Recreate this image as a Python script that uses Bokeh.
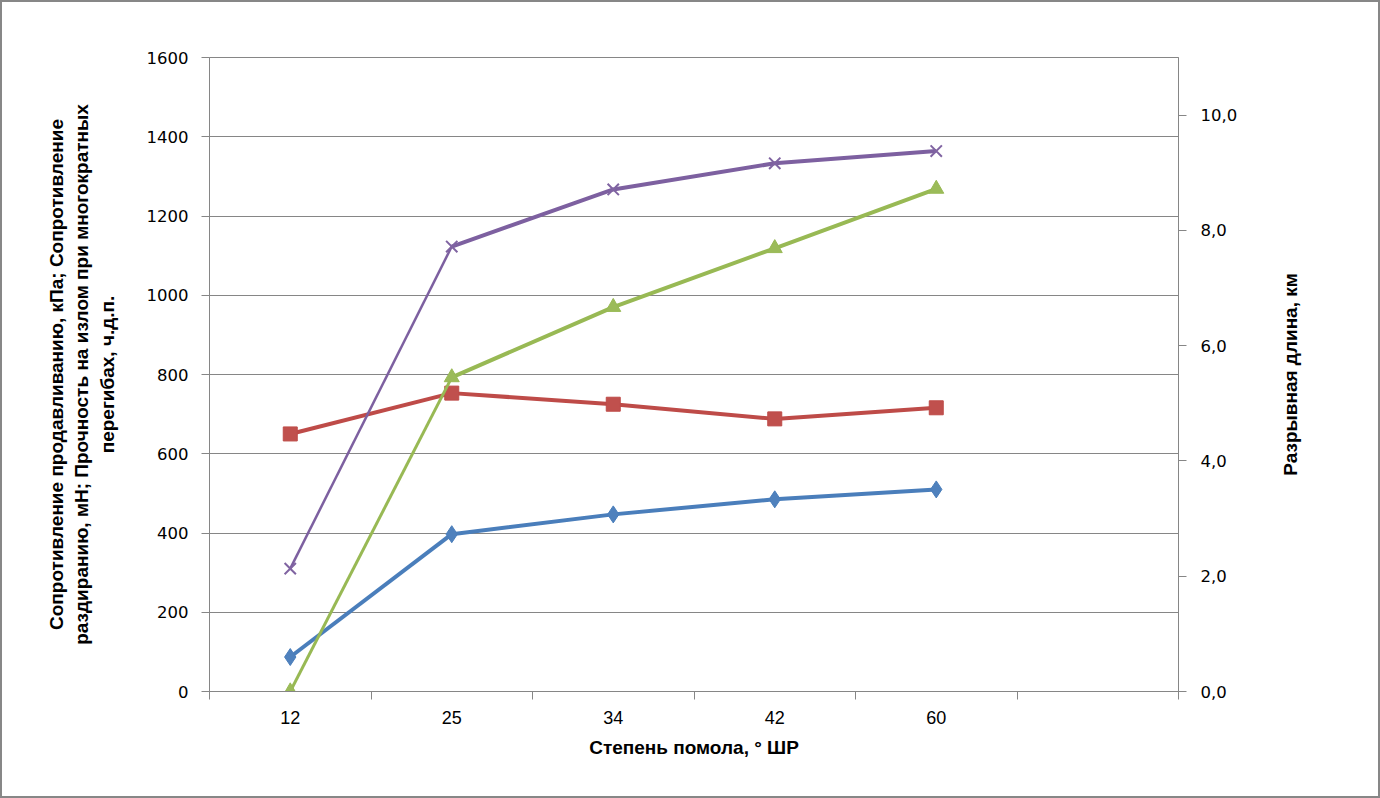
from bokeh.plotting import figure
from bokeh.layouts import row
from bokeh.models import Range1d, LinearAxis, FixedTicker
from bokeh.embed import file_html
from bokeh.resources import INLINE

# ---- data ----
categories = ["12", "25", "34", "42", "60"]
burst_kpa = [87, 397, 447, 485, 510]          # blue, diamonds (left axis)
tear_mn = [650, 753, 725, 688, 716]           # red, squares (left axis)
fold_dp = [310, 1123, 1267, 1333, 1364]       # purple, x (left axis)
breaking_km = [0.0, 5.45, 6.67, 7.69, 8.72]   # green, triangles (right axis)
left_ticks = [0, 200, 400, 600, 800, 1000, 1200, 1400, 1600]
right_ticks = [0, 2, 4, 6, 8, 10]
right_tick_labels = ["0,0", "2,0", "4,0", "6,0", "8,0", "10,0"]
n_slots = 6  # Excel category axis has one empty slot at the end

GRAY = "#868686"
TITLE_FONT = "Liberation Sans"
TICK_FONT = "DejaVu Sans"

x = [i + 0.5 for i in range(len(categories))]

p = figure(width=1248, height=794, output_backend="svg", toolbar_location=None,
           x_range=Range1d(0, n_slots), y_range=Range1d(0, 1600),
           min_border_left=207, min_border_right=72,
           min_border_top=55, min_border_bottom=105)
p.background_fill_color = "white"
p.border_fill_color = "white"
p.outline_line_color = GRAY
p.outline_line_width = 1

p.extra_y_ranges = {"km": Range1d(0, 11)}

# grid
p.xgrid.visible = False
p.ygrid.ticker = FixedTicker(ticks=left_ticks)
p.ygrid.grid_line_color = GRAY
p.ygrid.grid_line_width = 1

# x axis
xa = p.xaxis[0]
xa.ticker = FixedTicker(ticks=x, minor_ticks=list(range(n_slots + 1)))
xa.major_label_overrides = {xv: c for xv, c in zip(x, categories)}
xa.major_tick_out = 0
xa.major_tick_in = 0
xa.minor_tick_out = 8
xa.minor_tick_in = 0
xa.minor_tick_line_color = GRAY
xa.axis_line_color = GRAY
xa.major_label_standoff = 11
xa.major_label_text_font = TITLE_FONT
xa.major_label_text_font_size = "18px"
xa.major_label_text_color = "black"
xa.axis_label = "Степень помола, ° ШР"
xa.axis_label_text_font = TITLE_FONT
xa.axis_label_text_font_style = "bold"
xa.axis_label_text_font_size = "19px"
xa.axis_label_text_color = "black"
xa.axis_label_standoff = 10

# left y axis
ya = p.yaxis[0]
ya.ticker = FixedTicker(ticks=left_ticks)
ya.major_tick_out = 8
ya.major_tick_in = 0
ya.minor_tick_out = 0
ya.minor_tick_in = 0
ya.major_tick_line_color = GRAY
ya.axis_line_color = GRAY
ya.major_label_standoff = 13
ya.major_label_text_font = TICK_FONT
ya.major_label_text_font_size = "16.5px"
ya.major_label_text_color = "black"
ya.axis_label = ("Сопротивление продавливанию, кПа; Сопротивление\n"
                 "раздиранию, мН; Прочность на излом при многократных\n"
                 "перегибах, ч.д.п.")
ya.axis_label_text_font = TITLE_FONT
ya.axis_label_text_font_style = "bold"
ya.axis_label_text_font_size = "19px"
ya.axis_label_text_color = "black"
ya.axis_label_standoff = 26

# right y axis (ticks and labels)
ra = LinearAxis(y_range_name="km", ticker=FixedTicker(ticks=right_ticks))
ra.major_label_overrides = {float(t): l for t, l in zip(right_ticks, right_tick_labels)}
ra.major_tick_out = 8
ra.major_tick_in = 0
ra.minor_tick_out = 0
ra.minor_tick_in = 0
ra.major_tick_line_color = GRAY
ra.axis_line_color = GRAY
ra.major_label_standoff = 14
ra.major_label_text_font = TICK_FONT
ra.major_label_text_font_size = "16.5px"
ra.major_label_text_color = "black"
p.add_layout(ra, "right")

# ---- series ----
def series(ys, line_color, fill_color, marker, size, first_w, rng="default"):
    kw = {} if rng == "default" else {"y_range_name": rng}
    p.line(x[:2], ys[:2], line_color=line_color, line_width=first_w, **kw)
    p.line(x[1:], ys[1:], line_color=line_color, line_width=4, line_join="round", **kw)
    if marker == "x":
        p.scatter(x, ys, marker="x", size=size, line_color=fill_color, line_width=2, **kw)
    else:
        p.scatter(x, ys, marker=marker, size=size, fill_color=fill_color,
                  line_color=line_color, line_width=1, **kw)

series(burst_kpa, "#4A7EBB", "#4F81BD", "diamond", 17, 4)
series(tear_mn, "#BE4B48", "#C0504D", "square", 14, 4)
series(breaking_km, "#98B954", "#9BBB59", "triangle", 15, 3, rng="km")
series(fold_dp, "#7D60A0", "#8064A2", "x", 16, 2.5)

# ---- right-axis title panel (a left-side axis label reads bottom-to-top, as in Excel) ----
p2 = figure(width=128, height=794, output_backend="svg", toolbar_location=None,
            x_range=Range1d(0, 1), y_range=Range1d(0, 11),
            min_border_left=50, min_border_right=0,
            min_border_top=55, min_border_bottom=105)
p2.outline_line_color = None
p2.background_fill_color = "white"
p2.border_fill_color = "white"
p2.xaxis.visible = False
p2.grid.visible = False
ta = p2.yaxis[0]
ta.ticker = FixedTicker(ticks=[])
ta.axis_line_color = None
ta.major_tick_line_color = None
ta.minor_tick_line_color = None
ta.major_label_text_font_size = "0px"
ta.major_label_standoff = 0
ta.axis_label = "Разрывная длина, км"
ta.axis_label_text_font = TITLE_FONT
ta.axis_label_text_font_style = "bold"
ta.axis_label_text_font_size = "19px"
ta.axis_label_text_color = "black"
ta.axis_label_standoff = 0

layout = row(p, p2, spacing=0)
layout.styles = {"border": "2px solid #878787", "background-color": "white"}

open("out.html", "w").write(file_html(layout, INLINE))
